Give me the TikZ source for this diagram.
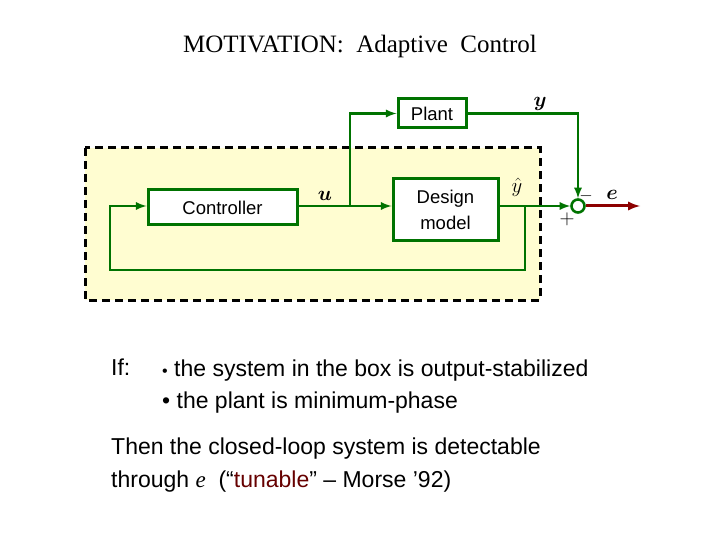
\documentclass[tikz,border=0pt]{standalone}
\usepackage{amsmath,bm}
\usepackage{fontspec}
\setmainfont{Liberation Serif}
\setsansfont{Liberation Sans}
\begin{document}
\begin{tikzpicture}[x=1pt,y=-1pt,
  blk/.style={draw=green!45!black,line width=3pt,fill=white,font=\sffamily\fontsize{18.5}{22}\selectfont,align=center,inner sep=0pt},
  wire/.style={draw=green!45!black,line width=2.6pt},
  arr/.style={wire,-latex}]
\useasboundingbox (0,0) rectangle (720,540);
\node[font=\fontsize{25}{28}\selectfont] (title) at (360,46) {MOTIVATION:\ \ Adaptive\ \ Control};
\draw[fill=yellow!18,dashed,line width=3pt,dash pattern=on 8pt off 5pt] (85,148) rectangle (540,300);
\node[blk,minimum width=149pt,minimum height=35pt] (ctrl) at (222.5,207.5) {Controller};
\node[blk,minimum width=105pt,minimum height=61pt] (dm) at (445.5,209.5) {Design\\[4pt]model};
\node[blk,minimum width=68pt,minimum height=29pt] (plant) at (432,113.5) {Plant};
\node[draw=green!45!black,line width=2.6pt,circle,minimum size=13pt,inner sep=0pt,fill=white] (sum) at (578,206) {};
\coordinate (br) at (350,206);
\coordinate (yb) at (525,206);
\draw[wire] (ctrl.east |- br) -- (br);
\draw[arr] (br) -- (dm.west |- br);
\draw[arr] (br) |- (plant.west);
\draw[arr] (plant.east) -| (sum.north);
\draw[arr] (dm.east |- yb) -- (sum.west);
\draw[arr] (yb) -- (525,270) -- (110,270) -- (110,206) -- (ctrl.west |- br);
\draw[draw=red!55!black,line width=3pt,-latex] (sum.east) -- (640,206);
\node (u) at (325,196) {\fontsize{22}{22}\selectfont$\bm{u}$};
\node (yl) at (540,104) {\fontsize{22}{22}\selectfont$\bm{y}$};
\node (yh) at (517,187) {\fontsize{22}{22}\selectfont$\hat y$};
\node (el) at (612,195) {\fontsize{22}{22}\selectfont$\bm{e}$};
\node (mi) at (586,196) {\fontsize{18}{18}\selectfont$-$};
\node (pl) at (567,219) {\fontsize{22}{22}\selectfont$+$};
\begin{scope}[every node/.style={anchor=base west,font=\sffamily\fontsize{23}{27}\selectfont,inner sep=0pt}]
\node (if) at (111,375) {If:};
\node (b1) at (162,376) {{\fontsize{16}{16}\selectfont•} the system in the box is output-stabilized};
\node (b2) at (162,408) {• the plant is minimum-phase};
\node (t1) at (111,454) {Then the closed-loop system is detectable};
\node (t2) at (111,487) {through {\rmfamily\itshape e}\ \ (“\textcolor{red!40!black}{tunable}” – Morse ’92)};
\end{scope}
\end{tikzpicture}
\end{document}
